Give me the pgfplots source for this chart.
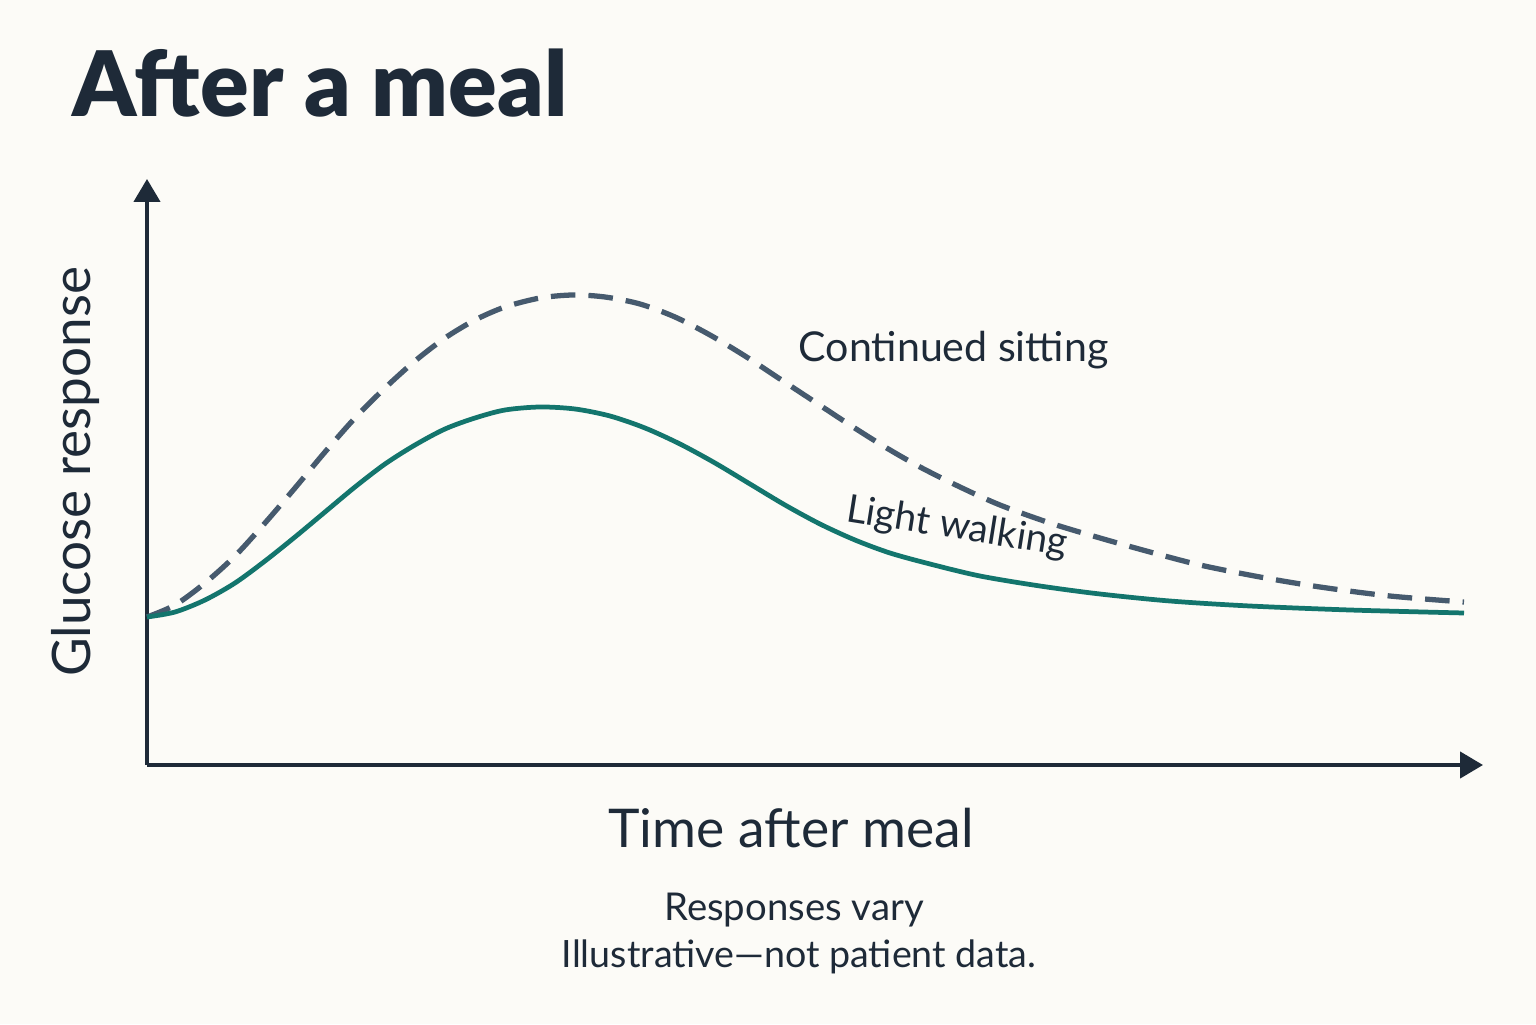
\documentclass[border=0pt]{standalone}
\usepackage{fontspec}
\setmainfont{Lato}
\newfontfamily\titlefont{Lato Black}
\usepackage{pgfplots}
\pgfplotsset{compat=1.18}
\usetikzlibrary{arrows.meta,backgrounds}

\definecolor{bgcol}{HTML}{FCFBF7}
\definecolor{inkcol}{HTML}{1E2A38}
\definecolor{sitcol}{HTML}{465A6E}
\definecolor{walkcol}{HTML}{13756D}

% curves (pixel x, 1024 - pixel y)
\pgfplotstableread{
x y
147 407
175 419
205 441
235 468
265 501
295 536
325 572
355 606
385 636
415 663
445 686
475 704
505 717
540 726
573 729
605 727
640 720
675 707
710 689
745 668
780 645
815 622
850 599
885 577
920 557
960 537
1000 519
1050 501
1100 486
1150 472
1200 459
1260 447
1320 437
1390 428
1464 422
}\sitting
\pgfplotstableread{
x y
147 407
175 412
205 424
235 441
265 463
295 487
325 512
355 537
385 560
415 579
445 595
475 606
505 614
540 617
575 615
610 608
645 596
680 580
715 561
750 540
785 519
820 500
855 484
890 471
930 460
980 448
1040 438
1100 430
1170 423
1250 418
1350 414
1464 411
}\walking

\begin{document}
\begin{tikzpicture}
\begin{axis}[
  width=13.36cm, height=5.86cm, scale only axis,
  xmin=147, xmax=1483, ymin=259, ymax=845,
  axis lines=left,
  axis line style={line width=1.1pt, inkcol, -{Triangle[length=6.5pt,width=7.4pt]}},
  ticks=none, clip=false,
]
  \coordinate (bl) at (axis cs:0,0);
  \coordinate (tr) at (axis cs:1536,1024);

  \addplot[smooth, sitcol, line width=1.5pt, dash pattern=on 7pt off 3.7pt] table {\sitting};
  \addplot[smooth, walkcol, line width=1.35pt] table {\walking};

  \node[anchor=base west, inner sep=0, inkcol, font=\fontsize{25.7}{30}\titlefont]
    at (axis cs:72,907) {After a meal};
  \node[rotate=90, anchor=base, inner sep=0, inkcol, font=\fontsize{15.1}{18}\selectfont]
    at (axis cs:91,552) {Glucose response};
  \node[anchor=base, inner sep=0, inkcol, font=\fontsize{15.2}{18}\selectfont]
    at (axis cs:791,177) {Time after meal};
  \node[anchor=base, inner sep=0, inkcol, font=\fontsize{10.9}{13}\selectfont]
    at (axis cs:794,104) {Responses vary};
  \node[anchor=base, inner sep=0, inkcol, font=\fontsize{10.7}{13}\selectfont]
    at (axis cs:799,57) {Illustrative—not patient data.};
  \node[anchor=base west, inner sep=0, inkcol, font=\fontsize{11.7}{14}\selectfont]
    at (axis cs:798,662) {Continued sitting};
  \node[rotate=-9, inner sep=0, inkcol, font=\fontsize{11}{13}\selectfont]
    at (axis cs:957,496) {Light walking};
\end{axis}
\begin{scope}[on background layer]
  \fill[bgcol] (bl) rectangle (tr);
\end{scope}
\end{tikzpicture}
\end{document}
